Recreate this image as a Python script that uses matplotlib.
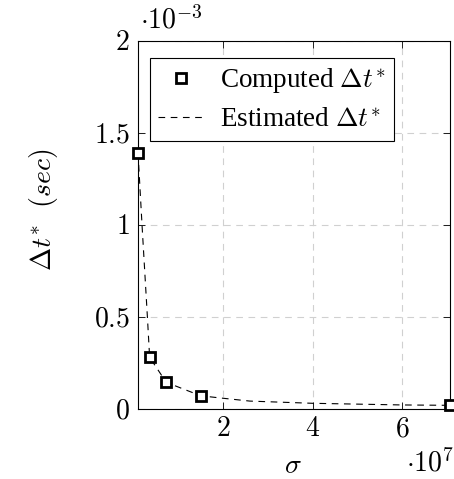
import matplotlib
matplotlib.use("Agg")
import matplotlib.pyplot as plt
from matplotlib.ticker import FixedLocator, FuncFormatter

plt.rcParams['mathtext.fontset'] = 'cm'
plt.rcParams['font.family'] = ['Liberation Serif', 'DejaVu Serif']

# computed values (sigma in 1e7, dt in 1e-3)
sigma = [0.1, 0.36, 0.73, 1.5, 7.06]
dt_comp = [1.393, 0.281, 0.145, 0.072, 0.02]

# estimated curve
est_sigma = [0.1, 0.19, 0.31, 0.36, 0.73, 1.5, 1.9, 2.6, 4.0, 6.0, 7.06]
est_dt = [1.393, 1.0, 0.5, 0.281, 0.145, 0.072, 0.061, 0.043, 0.031, 0.022, 0.02]

xticks = [2, 4, 6]
yticks = [0, 0.5, 1, 1.5, 2]

fig = plt.figure(figsize=(4.54, 4.79), dpi=100)
ax = fig.add_axes([138/454, 70/479, 311.5/454, 368/479])

ax.plot(sigma, dt_comp, linestyle='none', marker='s', markersize=7.5,
        markerfacecolor='white', markeredgecolor='black', markeredgewidth=2,
        label=r'Computed $\Delta t^{*}$', zorder=4, clip_on=False)
ax.plot(est_sigma, est_dt, color='black', linestyle=(0, (6, 5)), linewidth=0.8,
        label=r'Estimated $\Delta t^{*}$', zorder=3)

ax.set_xlim(sigma[0], sigma[-1])
ax.set_ylim(0, 2)
ax.xaxis.set_major_locator(FixedLocator(xticks))
ax.yaxis.set_major_locator(FixedLocator(yticks))
ax.xaxis.set_major_formatter(FuncFormatter(lambda v, p: r'$%g$' % v))
ax.yaxis.set_major_formatter(FuncFormatter(lambda v, p: r'$%g$' % v))
ax.tick_params(direction='in', length=5, width=0.6, labelsize=20, top=True, right=True, pad=6)
ax.grid(True, color='#d0d0d0', linestyle=(0, (6, 5)), linewidth=0.8)
ax.set_axisbelow(True)
for s in ax.spines.values():
    s.set_linewidth(0.8)

fig.text(293/454, 1 - 467/479, r'$\sigma$', fontsize=20, ha='center', va='center')
fig.text(43/454, 1 - 210/479, r'$\Delta t^{*}\ \ (sec)$', fontsize=20, rotation=90,
         ha='center', va='center')
fig.text(171/454, 1 - 20/479, r'$\cdot10^{-3}$', fontsize=20, ha='center', va='center')
fig.text(430/454, 1 - 463/479, r'$\cdot10^{7}$', fontsize=20, ha='center', va='center')

leg = ax.legend(loc='upper left', bbox_to_anchor=(12/311.5, (409-58)/368), fontsize=19.5,
                frameon=True, fancybox=False, edgecolor='black', framealpha=1,
                borderpad=0.3, handlelength=1.7, handletextpad=0.6, labelspacing=0.45,
                borderaxespad=0)
leg.get_frame().set_linewidth(0.8)

fig.savefig('out.png', dpi=100)
